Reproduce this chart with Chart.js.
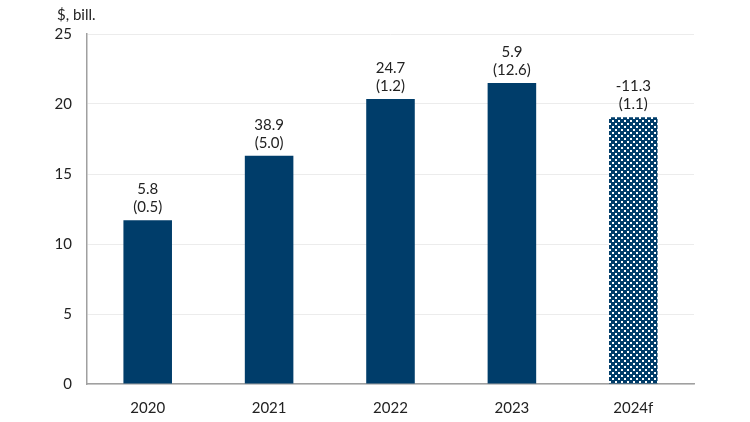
<!DOCTYPE html>
<html><head><meta charset="utf-8">
<script src="https://cdn.jsdelivr.net/npm/chart.js@4"></script>
<style>html,body{margin:0;padding:0;background:#fff}#wrap{width:750px;height:422px}</style>
</head><body><div id="wrap"><canvas id="c" width="750" height="422"></canvas></div>
<script>
const categories = ['2020','2021','2022','2023','2024f'];
const values = [11.7, 16.3, 20.35, 21.5, 19.05];
const topLabels = ['5.8','38.9','24.7','5.9','-11.3'];
const bottomLabels = ['(0.5)','(5.0)','(1.2)','(12.6)','(1.1)'];
const yTicks = [0,5,10,15,20,25];
const unitLabel = '$, bill.';

const NAVY = '#003d6a';
const FONT = "Lato, 'Open Sans', sans-serif";

function makePattern(){
  const t = document.createElement('canvas');
  t.width = 6; t.height = 6;
  const g = t.getContext('2d');
  g.fillStyle = NAVY; g.fillRect(0,0,6,6);
  g.fillStyle = '#ffffff';
  g.fillRect(0,0,2,2);
  g.fillRect(3,3,2,2);
  return g.createPattern(t,'repeat');
}
const ctx = document.getElementById('c').getContext('2d');
const pattern = makePattern();

const labelPlugin = {
  id:'labels',
  afterDatasetsDraw(chart){
    const c = chart.ctx;
    const meta = chart.getDatasetMeta(0);
    c.save();
    c.fillStyle = '#222';
    c.font = "15px " + FONT;
    c.textAlign = 'center';
    c.textBaseline = 'middle';
    meta.data.forEach((bar,i)=>{
      c.fillText(topLabels[i], bar.x, bar.y - 31);
      c.fillText(bottomLabels[i], bar.x, bar.y - 13);
    });
    c.textAlign = 'left';
    c.fillText(unitLabel, 57, 15);
    c.restore();
  }
};

new Chart(ctx,{
  type:'bar',
  data:{labels:categories,datasets:[{
    data:values,
    backgroundColor: values.map((v,i)=> i===values.length-1 ? pattern : NAVY),
    borderWidth:0,
    barPercentage:0.4,
    categoryPercentage:1
  }]},
  options:{
    responsive:false,
    animation:false,
    devicePixelRatio:1,
    layout:{padding:{left:0,right:56,top:34,bottom:0}},
    plugins:{legend:{display:false},tooltip:{enabled:false}},
    scales:{
      x:{
        grid:{display:false,drawTicks:false},
        border:{display:true,color:'#a0a0a0',width:1.5},
        ticks:{color:'#222',font:{size:15,family:FONT},padding:15},
        afterFit(s){ s.height = 38; }
      },
      y:{
        min:0,max:25,
        afterBuildTicks(s){ s.ticks = yTicks.map(v=>({value:v})); },
        grid:{color:'#ececec',drawTicks:false,lineWidth:1},
        border:{display:true,color:'#a0a0a0',width:1.5},
        ticks:{color:'#222',font:{size:15,family:FONT},padding:15},
        afterFit(s){ s.width = 87; }
      }
    }
  },
  plugins:[labelPlugin]
});
</script></body></html>
